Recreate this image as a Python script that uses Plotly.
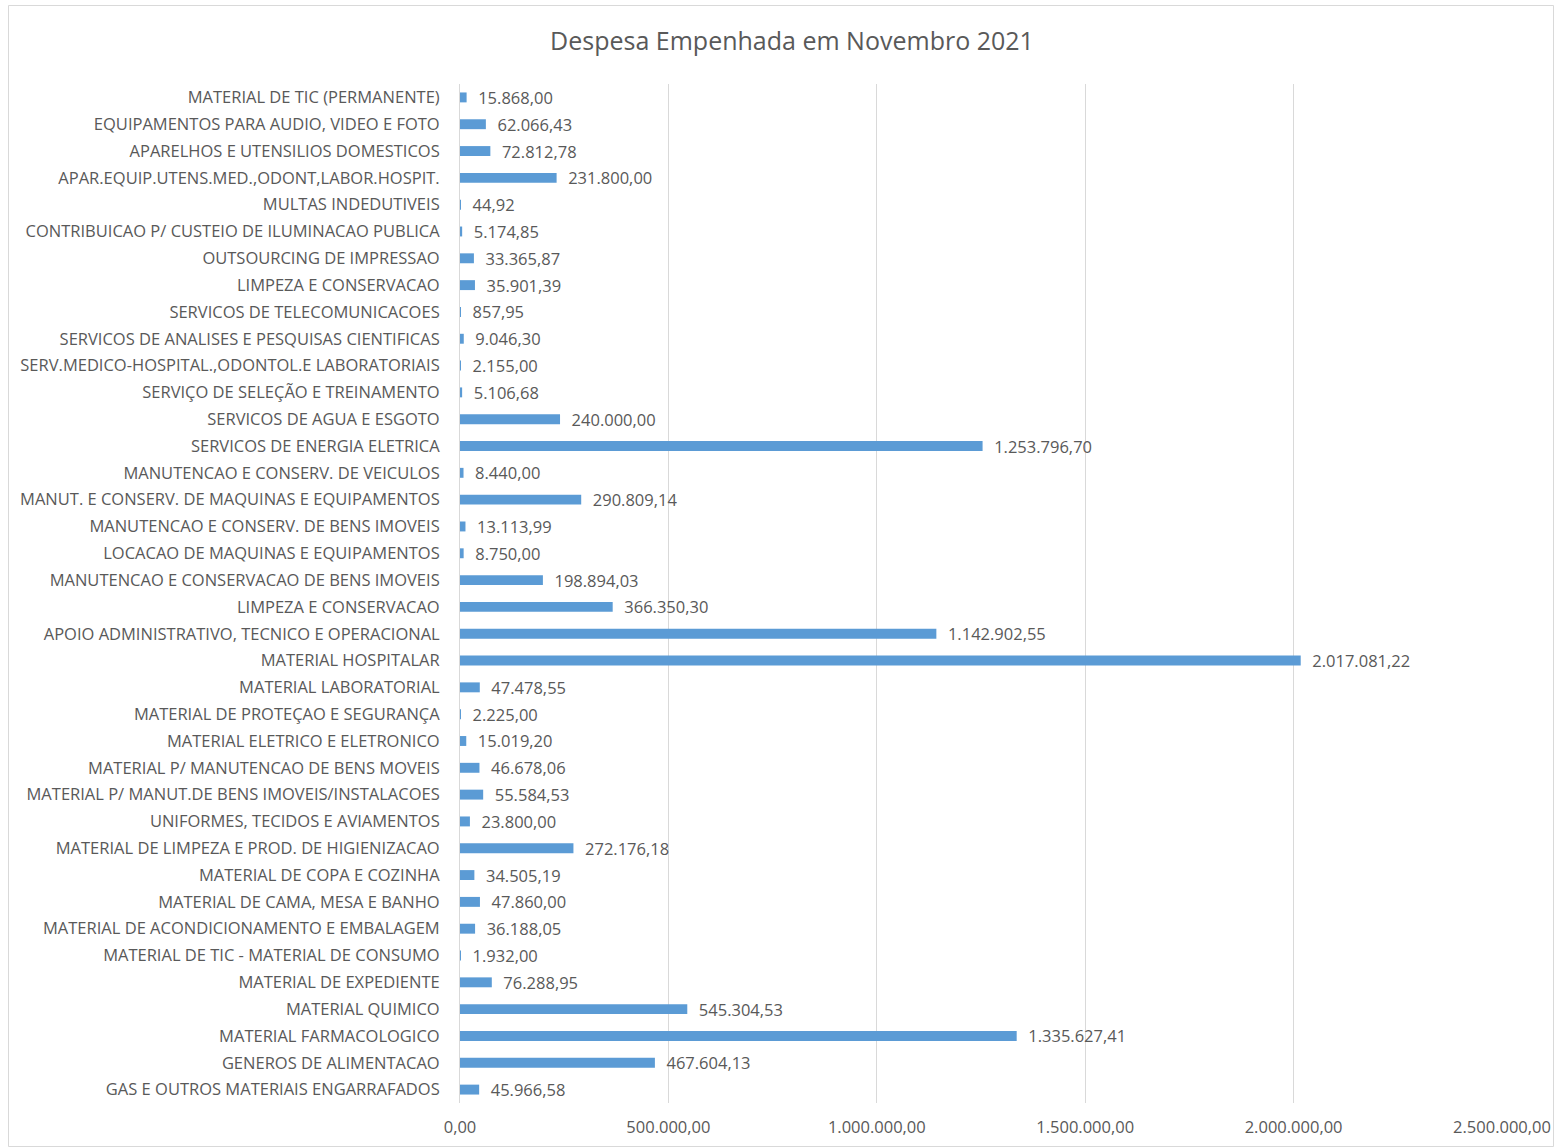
import plotly.graph_objects as go

categories = [
    "GAS E OUTROS MATERIAIS ENGARRAFADOS",
    "GENEROS DE ALIMENTACAO",
    "MATERIAL FARMACOLOGICO",
    "MATERIAL QUIMICO",
    "MATERIAL DE EXPEDIENTE",
    "MATERIAL DE TIC - MATERIAL DE CONSUMO",
    "MATERIAL DE ACONDICIONAMENTO E EMBALAGEM",
    "MATERIAL DE CAMA, MESA E BANHO",
    "MATERIAL DE COPA E COZINHA",
    "MATERIAL DE LIMPEZA E PROD. DE HIGIENIZACAO",
    "UNIFORMES, TECIDOS E AVIAMENTOS",
    "MATERIAL P/ MANUT.DE BENS IMOVEIS/INSTALACOES",
    "MATERIAL P/ MANUTENCAO DE BENS MOVEIS",
    "MATERIAL ELETRICO E ELETRONICO",
    "MATERIAL DE PROTEÇAO E SEGURANÇA",
    "MATERIAL LABORATORIAL",
    "MATERIAL HOSPITALAR",
    "APOIO ADMINISTRATIVO, TECNICO E OPERACIONAL",
    "LIMPEZA E CONSERVACAO",
    "MANUTENCAO E CONSERVACAO DE BENS IMOVEIS",
    "LOCACAO DE MAQUINAS E EQUIPAMENTOS",
    "MANUTENCAO E CONSERV. DE BENS IMOVEIS",
    "MANUT. E CONSERV. DE MAQUINAS E EQUIPAMENTOS",
    "MANUTENCAO E CONSERV. DE VEICULOS",
    "SERVICOS DE ENERGIA ELETRICA",
    "SERVICOS DE AGUA E ESGOTO",
    "SERVIÇO DE SELEÇÃO E TREINAMENTO",
    "SERV.MEDICO-HOSPITAL.,ODONTOL.E LABORATORIAIS",
    "SERVICOS DE ANALISES E PESQUISAS CIENTIFICAS",
    "SERVICOS DE TELECOMUNICACOES",
    "LIMPEZA E CONSERVACAO",
    "OUTSOURCING DE IMPRESSAO",
    "CONTRIBUICAO P/ CUSTEIO DE ILUMINACAO PUBLICA",
    "MULTAS INDEDUTIVEIS",
    "APAR.EQUIP.UTENS.MED.,ODONT,LABOR.HOSPIT.",
    "APARELHOS E UTENSILIOS DOMESTICOS",
    "EQUIPAMENTOS PARA AUDIO, VIDEO E FOTO",
    "MATERIAL DE TIC (PERMANENTE)",
]

values = [
    45966.58, 467604.13, 1335627.41, 545304.53, 76288.95, 1932.00,
    36188.05, 47860.00, 34505.19, 272176.18, 23800.00, 55584.53,
    46678.06, 15019.20, 2225.00, 47478.55, 2017081.22, 1142902.55,
    366350.30, 198894.03, 8750.00, 13113.99, 290809.14, 8440.00,
    1253796.70, 240000.00, 5106.68, 2155.00, 9046.30, 857.95,
    35901.39, 33365.87, 5174.85, 44.92, 231800.00, 72812.78,
    62066.43, 15868.00,
]

x_ticks = [0, 500000, 1000000, 1500000, 2000000, 2500000]

FONT = "Open Sans"
TXT = "#595959"
FS = 16.5

positions = list(range(len(categories)))

fig = go.Figure(go.Bar(
    x=values,
    y=positions,
    orientation="h",
    marker=dict(color="#5b9bd5", line=dict(width=0)),
    width=0.37,
    texttemplate="  %{x:,.2f}",
    textposition="outside",
    constraintext="none",
    cliponaxis=False,
    textfont=dict(family=FONT, size=FS, color=TXT),
    hoverinfo="skip",
))

W, H = 1555, 1147
ml, mr, mt, mb = 460, 53, 84, 44
pw, ph = W - ml - mr, H - mt - mb

fig.update_layout(
    width=W, height=H,
    margin=dict(l=ml, r=mr, t=mt, b=mb, autoexpand=False),
    paper_bgcolor="white",
    plot_bgcolor="white",
    separators=",.",
    showlegend=False,
    hovermode=False,
    title=dict(
        text="Despesa Empenhada em Novembro 2021",
        x=792 / W, xanchor="center", y=1 - 41 / H, yanchor="middle",
        font=dict(family=FONT, size=25, color=TXT),
    ),
    font=dict(family=FONT, size=FS, color=TXT),
    xaxis=dict(
        range=[0, 2500000],
        tickvals=x_ticks,
        tickformat=",.2f",
        automargin=False,
        showgrid=True,
        gridcolor="#d9d9d9",
        gridwidth=1,
        zeroline=False,
        showline=False,
        ticks="",
        ticklabelstandoff=12,
        tickfont=dict(family=FONT, size=FS, color=TXT),
    ),
    yaxis=dict(
        range=[-0.5, len(categories) - 0.5],
        tickvals=positions,
        ticktext=categories,
        automargin=False,
        showgrid=False,
        zeroline=False,
        showline=True,
        linecolor="#d9d9d9",
        linewidth=1,
        ticks="",
        ticklabelstandoff=16,
        tickfont=dict(family=FONT, size=FS, color=TXT),
    ),
    shapes=[dict(
        type="rect", xref="paper", yref="paper",
        x0=(8.5 - ml) / pw, x1=(1553.5 - ml) / pw,
        y0=(H - mb - 1146.5) / ph, y1=(H - mb - 5.5) / ph,
        line=dict(color="#d9d9d9", width=1),
        fillcolor="rgba(0,0,0,0)",
        layer="below",
    )],
)

fig.write_html(
    "out.html",
    config={"displayModeBar": False},
    post_script=(
        "document.body.style.margin='0';"
        "document.body.style.overflow='hidden';"
        "var d=document.getElementById('{plot_id}');"
        "d.style.position='fixed';d.style.left='0px';d.style.top='0px';"
    ),
)
